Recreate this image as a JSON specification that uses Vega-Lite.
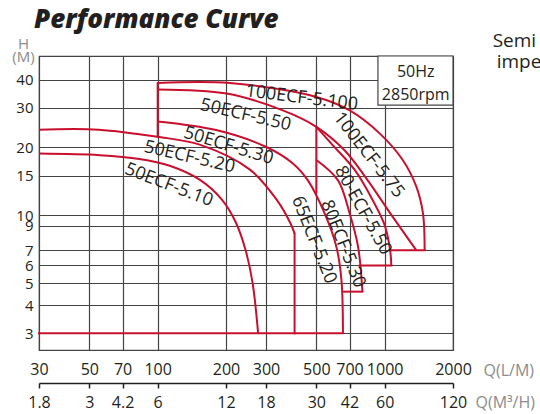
{
  "$schema": "https://vega.github.io/schema/vega-lite/v6.json",
  "width": 414,
  "height": 294,
  "autosize": {"type": "none"},
  "padding": {"left": 39, "top": 56, "right": 87, "bottom": 64},
  "background": "white",
  "title": {"text": "Performance Curve", "anchor": "start", "frame": "group", "fontSize": 26, "fontWeight": 800, "fontStyle": "italic", "font": "Open Sans", "color": "#231f20", "baseline": "alphabetic", "offset": 10, "dx": -5, "dy": 32},
  "datasets": {
    "curves": [
      {"c": "A", "i": 0, "q": 30, "h": 18.8}, {"c": "A", "i": 1, "q": 55.5, "h": 18.5}, {"c": "A", "i": 2, "q": 83, "h": 17.8}, {"c": "A", "i": 3, "q": 113, "h": 16.6}, {"c": "A", "i": 4, "q": 153, "h": 14.4}, {"c": "A", "i": 5, "q": 191, "h": 11.8}, {"c": "A", "i": 6, "q": 221, "h": 9.3}, {"c": "A", "i": 7, "q": 244, "h": 7.0}, {"c": "A", "i": 8, "q": 262, "h": 5.0}, {"c": "A", "i": 9, "q": 277, "h": 3.0},
      {"c": "B", "i": 0, "q": 30, "h": 24.0}, {"c": "B", "i": 1, "q": 55, "h": 24.0}, {"c": "B", "i": 2, "q": 100, "h": 22.3}, {"c": "B", "i": 3, "q": 153, "h": 20.6}, {"c": "B", "i": 4, "q": 254, "h": 16.0}, {"c": "B", "i": 5, "q": 333, "h": 11.8}, {"c": "B", "i": 6, "q": 385, "h": 9.2}, {"c": "B", "i": 7, "q": 401, "h": 8.3},
      {"c": "C", "i": 0, "q": 100, "h": 26.1}, {"c": "C", "i": 1, "q": 181, "h": 23.9}, {"c": "C", "i": 2, "q": 301, "h": 20.1}, {"c": "C", "i": 3, "q": 394, "h": 17.0}, {"c": "C", "i": 4, "q": 459, "h": 14.3}, {"c": "C", "i": 5, "q": 544, "h": 10.2}, {"c": "C", "i": 6, "q": 613, "h": 7.25}, {"c": "C", "i": 7, "q": 645, "h": 5.16}, {"c": "C", "i": 8, "q": 655, "h": 3},
      {"c": "F", "i": 0, "q": 100, "h": 36.2}, {"c": "F", "i": 1, "q": 201, "h": 34.7}, {"c": "F", "i": 2, "q": 356, "h": 29.2}, {"c": "F", "i": 3, "q": 500, "h": 24.7}, {"c": "F", "i": 4, "q": 667, "h": 19.4}, {"c": "F", "i": 5, "q": 842, "h": 14.3}, {"c": "F", "i": 6, "q": 1074, "h": 10.0}, {"c": "F", "i": 7, "q": 1263, "h": 7.93}, {"c": "F", "i": 8, "q": 1379, "h": 7.0},
      {"c": "E", "i": 0, "q": 100, "h": 38.6}, {"c": "E", "i": 1, "q": 208, "h": 38.6}, {"c": "E", "i": 2, "q": 500, "h": 33.5}, {"c": "E", "i": 3, "q": 701, "h": 29.2}, {"c": "E", "i": 4, "q": 950, "h": 23.1}, {"c": "E", "i": 5, "q": 1201, "h": 17.6}, {"c": "E", "i": 6, "q": 1379, "h": 13.4}, {"c": "E", "i": 7, "q": 1475, "h": 10.2}, {"c": "E", "i": 8, "q": 1500, "h": 7.0},
      {"c": "G", "i": 0, "q": 500, "h": 24.7}, {"c": "G", "i": 1, "q": 590, "h": 20.5}, {"c": "G", "i": 2, "q": 738, "h": 15.9}, {"c": "G", "i": 3, "q": 885, "h": 11.7}, {"c": "G", "i": 4, "q": 1000, "h": 9.05}, {"c": "G", "i": 5, "q": 1057, "h": 7.0}, {"c": "G", "i": 6, "q": 1070, "h": 6.0},
      {"c": "H", "i": 0, "q": 500, "h": 17.6}, {"c": "H", "i": 1, "q": 623, "h": 14.3}, {"c": "H", "i": 2, "q": 701, "h": 10.2}, {"c": "H", "i": 3, "q": 763, "h": 7.3}, {"c": "H", "i": 4, "q": 798, "h": 4.59}
    ],
    "straights": [
      {"c": "Base", "i": 0, "q": 30, "h": 3}, {"c": "Base", "i": 1, "q": 655, "h": 3},
      {"c": "BV", "i": 0, "q": 401, "h": 8.3}, {"c": "BV", "i": 1, "q": 401, "h": 3},
      {"c": "V100", "i": 0, "q": 100, "h": 38.6}, {"c": "V100", "i": 1, "q": 100, "h": 22.3},
      {"c": "V500", "i": 0, "q": 500, "h": 24.7}, {"c": "V500", "i": 1, "q": 500, "h": 12.7},
      {"c": "EB", "i": 0, "q": 1500, "h": 7.0}, {"c": "EB", "i": 1, "q": 1057, "h": 7.0},
      {"c": "GB", "i": 0, "q": 1070, "h": 6.0}, {"c": "GB", "i": 1, "q": 776, "h": 6.0},
      {"c": "HB", "i": 0, "q": 798, "h": 4.59}, {"c": "HB", "i": 1, "q": 655, "h": 4.59}
    ]
  },
  "layer": [
    {
      "data": {"values": [{"q1": 934, "q2": 2000, "h1": 30.8, "h2": 50.9}]},
      "mark": {"type": "rect", "fill": "white", "stroke": "#444444", "strokeWidth": 1.2},
      "encoding": {
        "x": {"field": "q1", "type": "quantitative", "scale": {"type": "log", "domain": [30, 2000], "nice": false},
          "axis": {"orient": "bottom", "offset": 33, "values": [30, 50, 70, 100, 200, 300, 500, 700, 1000, 2000], "grid": false, "ticks": true, "tickSize": 5, "tickColor": "#231f20", "tickWidth": 1.5, "domain": true, "domainColor": "#231f20", "domainWidth": 1.5, "labelFontSize": 16, "labelPadding": 6, "labelExpr": "format(datum.value*0.06, '~g')", "title": "Q(M³/H)", "titleAngle": 0, "titleAlign": "left", "titleBaseline": "alphabetic", "titleX": 436, "titleY": 24, "titleFontSize": 16}},
        "x2": {"field": "q2"},
        "y": {"field": "h1", "type": "quantitative", "scale": {"type": "log", "domain": [2.53, 50.9], "nice": false}},
        "y2": {"field": "h2"}
      }
    },
    {
      "data": {"name": "curves"},
      "mark": {"type": "line", "color": "#c8102e", "strokeWidth": 2, "strokeJoin": "round", "interpolate": "catmull-rom"},
      "encoding": {
        "x": {"field": "q", "type": "quantitative", "scale": {"type": "log", "domain": [30, 2000], "nice": false},
          "axis": {"orient": "bottom", "values": [30, 50, 70, 100, 200, 300, 500, 700, 1000, 2000], "format": "d", "grid": true, "ticks": false, "domain": false, "labelFontSize": 16, "labelPadding": 11, "title": "Q(L/M)", "titleAngle": 0, "titleAlign": "left", "titleBaseline": "alphabetic", "titleX": 444, "titleY": 25, "titleFontSize": 16}},
        "y": {"field": "h", "type": "quantitative", "scale": {"type": "log", "domain": [2.53, 50.9], "nice": false},
          "axis": {"values": [3, 4, 5, 6, 7, 9, 10, 15, 20, 30, 40], "format": "d", "grid": true, "ticks": false, "domain": false, "labelFontSize": 15, "labelPadding": 6, "title": ["H", "(M)"], "titleAngle": 0, "titleAlign": "center", "titleBaseline": "alphabetic", "titleX": -16, "titleY": -8, "titleFontSize": 15, "titleLineHeight": 13}},
        "detail": {"field": "c"},
        "order": {"field": "i"}
      }
    },
    {
      "data": {"name": "straights"},
      "mark": {"type": "line", "color": "#c8102e", "strokeWidth": 2, "strokeCap": "square"},
      "encoding": {
        "x": {"field": "q", "type": "quantitative", "axis": null},
        "y": {"field": "h", "type": "quantitative"},
        "detail": {"field": "c"},
        "order": {"field": "i"}
      }
    },
    {
      "data": {"values": [{"label": "100ECF-5.100", "q": 431, "h": 33.1}]},
      "mark": {"type": "text", "angle": 7, "font": "Open Sans", "fontSize": 18, "color": "#231f20"},
      "encoding": {"x": {"field": "q", "type": "quantitative", "axis": null}, "y": {"field": "h", "type": "quantitative"}, "text": {"field": "label"}}
    },
    {
      "data": {"values": [{"label": "50ECF-5.50", "q": 244, "h": 27.8}]},
      "mark": {"type": "text", "angle": 13, "font": "Open Sans", "fontSize": 18, "color": "#231f20"},
      "encoding": {"x": {"field": "q", "type": "quantitative", "axis": null}, "y": {"field": "h", "type": "quantitative"}, "text": {"field": "label"}}
    },
    {
      "data": {"values": [{"label": "50ECF-5.30", "q": 205, "h": 20.3}]},
      "mark": {"type": "text", "angle": 17, "font": "Open Sans", "fontSize": 18, "color": "#231f20"},
      "encoding": {"x": {"field": "q", "type": "quantitative", "axis": null}, "y": {"field": "h", "type": "quantitative"}, "text": {"field": "label"}}
    },
    {
      "data": {"values": [{"label": "50ECF-5.20", "q": 138, "h": 18.1}]},
      "mark": {"type": "text", "angle": 13, "font": "Open Sans", "fontSize": 18, "color": "#231f20"},
      "encoding": {"x": {"field": "q", "type": "quantitative", "axis": null}, "y": {"field": "h", "type": "quantitative"}, "text": {"field": "label"}}
    },
    {
      "data": {"values": [{"label": "50ECF-5.10", "q": 112, "h": 13.6}]},
      "mark": {"type": "text", "angle": 21, "font": "Open Sans", "fontSize": 18, "color": "#231f20"},
      "encoding": {"x": {"field": "q", "type": "quantitative", "axis": null}, "y": {"field": "h", "type": "quantitative"}, "text": {"field": "label"}}
    },
    {
      "data": {"values": [{"label": "65ECF-5.20", "q": 487, "h": 7.77}]},
      "mark": {"type": "text", "angle": 68, "font": "Open Sans", "fontSize": 18, "color": "#231f20"},
      "encoding": {"x": {"field": "q", "type": "quantitative", "axis": null}, "y": {"field": "h", "type": "quantitative"}, "text": {"field": "label"}}
    },
    {
      "data": {"values": [{"label": "80ECF-5.30", "q": 653, "h": 7.46}]},
      "mark": {"type": "text", "angle": 68, "font": "Open Sans", "fontSize": 18, "color": "#231f20"},
      "encoding": {"x": {"field": "q", "type": "quantitative", "axis": null}, "y": {"field": "h", "type": "quantitative"}, "text": {"field": "label"}}
    },
    {
      "data": {"values": [{"label": "80-ECF-5.50", "q": 800, "h": 10.5}]},
      "mark": {"type": "text", "angle": 61, "font": "Open Sans", "fontSize": 18, "color": "#231f20"},
      "encoding": {"x": {"field": "q", "type": "quantitative", "axis": null}, "y": {"field": "h", "type": "quantitative"}, "text": {"field": "label"}}
    },
    {
      "data": {"values": [{"label": "100ECF-5.75", "q": 850, "h": 18.5}]},
      "mark": {"type": "text", "angle": 52, "font": "Open Sans", "fontSize": 18, "color": "#231f20"},
      "encoding": {"x": {"field": "q", "type": "quantitative", "axis": null}, "y": {"field": "h", "type": "quantitative"}, "text": {"field": "label"}}
    },
    {
      "data": {"values": [{"label": "50Hz", "q": 1370, "h": 43.1}, {"label": "2850rpm", "q": 1370, "h": 34.1}]},
      "mark": {"type": "text", "font": "Open Sans", "fontSize": 16, "color": "#231f20"},
      "encoding": {"x": {"field": "q", "type": "quantitative", "axis": null}, "y": {"field": "h", "type": "quantitative"}, "text": {"field": "label"}}
    },
    {
      "data": {"values": [{"label": "Semi", "q": 2990, "h": 55.6}, {"label": "impe", "q": 3114, "h": 44.9}]},
      "mark": {"type": "text", "font": "Open Sans", "fontSize": 19, "color": "#231f20", "align": "left", "baseline": "alphabetic"},
      "encoding": {"x": {"field": "q", "type": "quantitative", "axis": null}, "y": {"field": "h", "type": "quantitative"}, "text": {"field": "label"}}
    }
  ],
  "resolve": {"axis": {"x": "independent"}},
  "config": {
    "view": {"stroke": "#444444", "strokeWidth": 1.2},
    "axis": {"gridColor": "#444444", "gridOpacity": 1, "gridWidth": 1.2, "labelFont": "Open Sans", "labelColor": "#231f20", "titleFont": "Open Sans", "titleFontWeight": "normal", "titleColor": "#8c8c8c", "labelOverlap": false, "labelFlush": false, "labelBound": false}
  }
}
